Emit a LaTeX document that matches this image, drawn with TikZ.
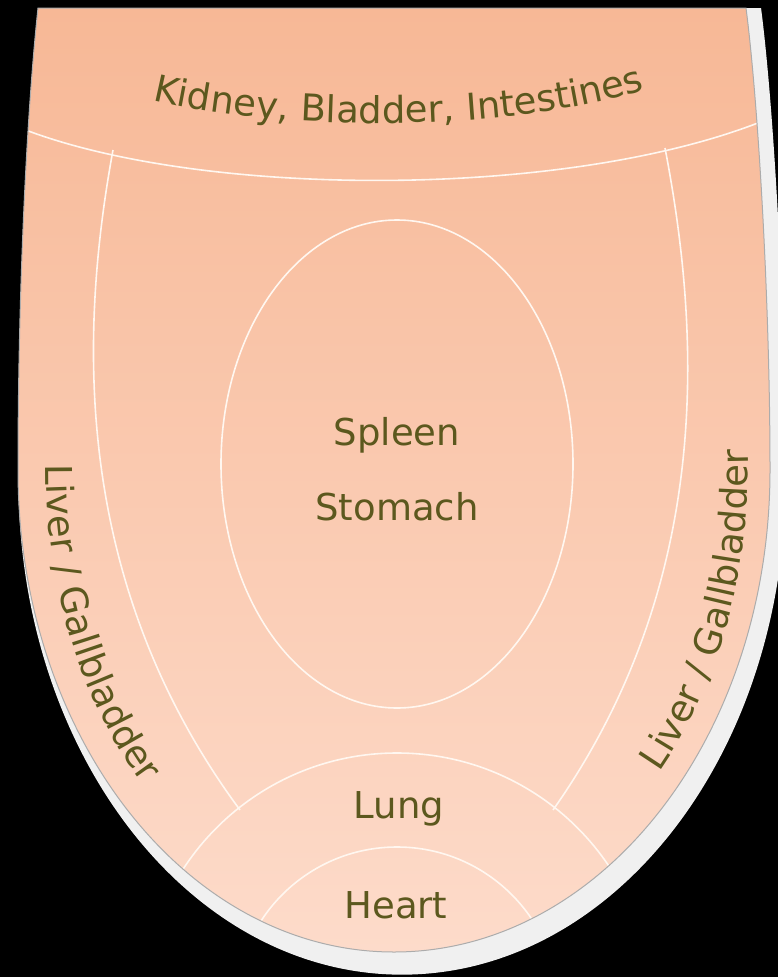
\documentclass[tikz,border=0pt]{standalone}
\usepackage{fontspec}
\setmainfont{DejaVu Sans}
\usetikzlibrary{decorations.text}

\definecolor{organtext}{RGB}{92,88,30}
\definecolor{tonguetop}{RGB}{247,184,150}
\definecolor{tonguebot}{RGB}{253,219,202}
\definecolor{zoneline}{RGB}{255,247,240}

% outline of the tongue, in pixel units (y grows downwards)
\newcommand{\tongueshape}{(38,8) -- (746,8)
  .. controls (758,100) and (770,300) .. (770,470)
  .. controls (770,736) and (602,952) .. (394,952)
  .. controls (186,952) and (18,736) .. (18,470)
  .. controls (18,300) and (26,120) .. (38,8) -- cycle}

\tikzset{
  organ/.style={font=\fontsize{37}{44}\selectfont, text=organtext, anchor=base, inner sep=0pt},
  zone/.style={draw=zoneline, line width=1.6pt},
  curvedlabel/.style={decorate, decoration={text along path, text align=center,
    text color=organtext, text={|\fontsize{37}{44}\selectfont|#1}}}
}

\begin{document}
\begin{tikzpicture}[x=1pt,y=-1pt]
  \fill[black] (0,0) rectangle (778,977);
  \useasboundingbox (0,0) rectangle (778,977);
  % shadow, a little larger than the tongue
  \fill[gray!12, shift={(402,8)}, xscale=1.02, yscale=1.024, shift={(-394,-8)}] \tongueshape;
  \shade[top color=tonguetop, bottom color=tonguebot] \tongueshape;
  \begin{scope}
    \clip \tongueshape;
    \draw[zone] (18,127) .. controls (200,200) and (580,200) .. (775,116);
    \draw[zone] (113,150) .. controls (80,330) and (70,580) .. (240,810);
    \draw[zone] (665,148) .. controls (700,330) and (715,580) .. (553,810);
    \draw[zone] (397,464) ellipse (176 and 244);
    \draw[zone] (397,1008) circle (255);
    \draw[zone] (397,1009) circle (162);
  \end{scope}
  \draw[gray!65, line width=1pt] \tongueshape;
  % labels
  \path[curvedlabel={Kidney, Bladder, Intestines}]
    (135,96) .. controls (268,134) and (528,134) .. (662,84);
  \path[curvedlabel={Liver / Gallbladder}]
    plot[smooth, domain=188:128, samples=25] ({394+348*cos(\x)},{470+454*sin(\x)});
  \path[curvedlabel={Liver / Gallbladder}]
    plot[smooth, domain=50:-10, samples=25] ({398+350*cos(\x)},{470+454*sin(\x)});
  \node[organ] (spleen) at (397,445) {Spleen};
  \node[organ] (stomach) at (397,520) {Stomach};
  \node[organ] (lung) at (399,818) {Lung};
  \node[organ] (heart) at (396,918) {Heart};
\end{tikzpicture}
\end{document}
